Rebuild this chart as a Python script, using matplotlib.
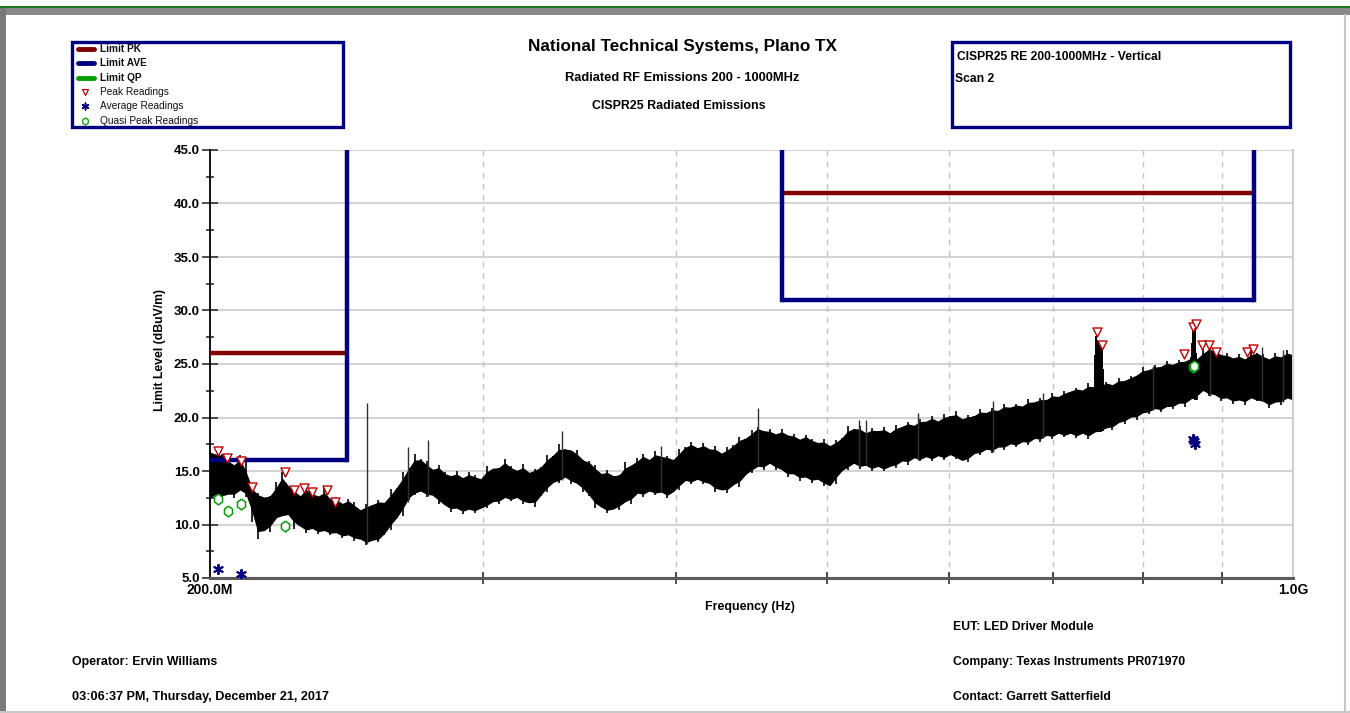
import numpy as np
import matplotlib
matplotlib.use("Agg")
import matplotlib.pyplot as plt
from matplotlib.patches import Rectangle

plt.rcParams['font.family'] = ['Liberation Sans', 'DejaVu Sans']

# measured trace: max / min of the black band read at each sweep point (dBuV/m)
trace_top = [16.9, 16.5, 16.6, 16.2, 15.5, 16.5, 15.9, 13.6, 12.9, 12.5,
             12.7, 14.0, 14.9, 13.6, 13.5, 12.6, 13.8, 13.0, 12.6, 13.5,
             12.3, 12.6, 11.9, 12.4, 12.1, 11.3, 11.9, 11.8, 12.3, 12.0,
             13.3, 13.4, 14.9, 15.3, 16.6, 16.1, 15.9, 15.1, 15.6, 14.9,
             14.5, 15.0, 14.3, 14.9, 14.6, 14.2, 15.5, 15.2, 15.3, 16.1,
             15.5, 15.0, 15.7, 14.8, 15.2, 15.4, 16.5, 16.4, 17.5, 17.1,
             16.9, 17.0, 16.0, 15.9, 15.6, 14.7, 15.1, 14.5, 14.6, 15.8,
             15.5, 16.2, 16.6, 16.0, 16.9, 16.3, 16.4, 16.0, 17.1, 17.2,
             17.7, 17.1, 17.6, 17.0, 17.3, 16.6, 17.2, 17.4, 18.2, 18.0,
             18.8, 19.1, 18.7, 18.9, 18.4, 18.9, 18.3, 18.5, 17.9, 18.4,
             18.0, 17.6, 18.0, 17.3, 17.9, 18.1, 19.2, 18.9, 19.2, 18.5,
             19.0, 18.7, 19.1, 18.5, 19.3, 19.1, 19.6, 19.2, 19.9, 19.6,
             20.1, 19.6, 20.3, 20.1, 20.6, 19.8, 20.2, 20.1, 20.8, 20.4,
             20.9, 20.6, 21.3, 20.9, 21.3, 21.0, 21.7, 21.4, 21.8, 21.6,
             22.3, 21.9, 22.5, 22.4, 22.8, 22.5, 23.2, 22.8, 23.0, 23.3,
             23.0, 23.7, 23.4, 23.9, 23.9, 24.7, 24.4, 24.9, 24.7, 25.3,
             24.9, 25.4, 25.2, 25.7, 25.4, 26.4, 26.3, 26.5, 25.8, 26.0,
             25.5, 25.9, 25.4, 26.2, 26.0, 25.9, 25.4, 26.0, 25.6, 26.3,
             25.8]
trace_bot = [12.2, 12.9, 12.6, 12.9, 12.5, 13.3, 12.6, 10.2, 8.6, 9.5,
             9.3, 10.6, 10.8, 11.0, 9.6, 9.9, 9.2, 9.7, 9.1, 9.5,
             9.0, 9.3, 8.7, 9.1, 8.5, 8.7, 8.1, 8.6, 8.4, 9.0,
             9.5, 10.6, 10.8, 12.3, 12.8, 13.2, 12.6, 12.8, 11.9, 11.9,
             11.2, 11.6, 11.0, 11.5, 11.1, 11.6, 11.5, 12.2, 11.9, 12.6,
             12.2, 12.6, 11.9, 12.1, 11.6, 12.7, 13.0, 14.0, 13.9, 14.5,
             13.8, 13.9, 13.0, 12.7, 11.5, 11.7, 11.1, 11.5, 11.4, 12.2,
             11.9, 13.0, 12.6, 13.2, 12.8, 13.1, 12.5, 13.1, 13.2, 14.2,
             13.8, 14.3, 13.8, 13.9, 13.0, 13.3, 12.9, 13.8, 13.5, 14.7,
             14.8, 15.5, 15.1, 15.8, 15.1, 15.2, 14.4, 14.8, 14.1, 14.5,
             13.9, 14.3, 13.6, 13.6, 13.8, 15.1, 15.1, 15.8, 15.2, 15.6,
             15.0, 15.5, 15.0, 15.5, 15.3, 16.0, 15.6, 16.3, 15.9, 16.4,
             15.9, 16.5, 16.0, 16.6, 16.1, 16.0, 15.8, 16.7, 16.5, 17.1,
             16.7, 17.3, 17.0, 17.6, 17.2, 17.8, 17.4, 18.1, 17.7, 18.4,
             18.0, 18.6, 18.2, 18.6, 18.1, 18.6, 18.0, 18.7, 18.6, 19.1,
             18.8, 19.6, 19.4, 20.1, 19.8, 20.5, 20.3, 20.9, 20.5, 21.1,
             20.8, 21.4, 21.0, 21.8, 21.6, 22.6, 22.0, 22.2, 21.5, 21.9,
             21.3, 21.7, 21.2, 21.9, 21.5, 21.6, 20.9, 21.5, 21.2, 21.9,
             21.5]
# the analyzer sweeps 200 MHz - 1 GHz on log spaced points
sweep_freq = np.geomspace(200, 1000, len(trace_top))

# tall single spikes and the two narrow emission columns (MHz, top dBuV/m)
spike_freq = [252.6, 268.4, 276.5, 337.4, 391.0, 451.6, 525.0, 530.0, 572.5, 640.0,
              690.0, 812.0, 884.0, 955.0, 985.0,
              745.5, 746.5, 747.5, 748.5, 749.5, 750.5, 751.5, 752.5, 753.5,
              859.5, 860.5, 861.5, 862.5, 863.5, 864.5, 865.5]
spike_top = [21.4, 17.2, 17.9, 18.7, 17.3, 20.9, 19.8, 19.8, 20.4, 21.5,
             22.3, 24.8, 26.5, 26.6, 26.3,
             25.8, 27.6, 27.2, 26.4, 27.0, 26.2, 26.8, 26.5, 24.5,
             25.5, 27.0, 28.3, 27.5, 28.0, 28.4, 26.0]

# CISPR25 limits: bands in MHz, levels in dBuV/m
band_start = [200.0, 468.0]
band_stop = [245.0, 944.0]
limit_pk = [26.0, 41.0]
limit_ave = [16.0, 31.0]

# final readings
peak_freq = [202.3, 205.2, 209.3, 212.8, 223.6, 226.6, 230.1, 232.9, 237.9, 241.0,
             747.0, 752.6, 850.4, 861.6, 865.4, 873.2, 883.0, 891.8, 933.4, 942.7]
peak_level = [16.9, 16.2, 15.9, 13.5, 14.9, 13.2, 13.4, 13.0, 13.2, 12.1,
              28.0, 26.8, 25.9, 28.5, 28.7, 26.8, 26.8, 26.1, 26.1, 26.4]
ave_freq = [202.3, 209.3, 862.0, 864.5, 863.2]
ave_level = [5.8, 5.4, 18.0, 17.5, 17.8]
qp_freq = [202.3, 205.3, 209.3, 223.6, 862.0, 863.5]
qp_level = [12.35, 11.3, 11.9, 9.9, 24.75, 24.85]

grid_freq = [300, 400, 500, 600, 700, 800, 900]
y_ticks = [5, 10, 15, 20, 25, 30, 35, 40, 45]

PK_COLOR = '#800000'
AVE_COLOR = '#000080'
QP_COLOR = '#00a000'
PEAK_MK = '#c00000'
QP_MARK = [(0, 1), (0.75, 0.45), (0.75, -0.45), (0, -1), (-0.75, -0.45), (-0.75, 0.45), (0, 1)]

fig = plt.figure(figsize=(13.5, 7.13), dpi=100)
ax = fig.add_axes([210 / 1350, 1 - 578 / 713, 1083 / 1350, 428 / 713])
ax.set_xscale('log')
ax.set_xlim(200, 1000)
ax.set_ylim(5, 45)

for y in y_ticks:
    ax.axhline(y, color='#d4d4d4', lw=1.5, zorder=0)
for f in grid_freq:
    ax.axvline(f, color='#c4c4c4', lw=1.0, ls=(0, (4, 4)), zorder=0)

# trace: dense core between neighbouring readings, single sweeps drawn as thin strokes
top = np.array(trace_top)
bot = np.array(trace_bot)
low_top = np.minimum(top, np.minimum(np.r_[top[0], top[:-1]], np.r_[top[1:], top[-1]]))
high_bot = np.maximum(bot, np.maximum(np.r_[bot[0], bot[:-1]], np.r_[bot[1:], bot[-1]]))
core_top = 0.5 * (top + low_top)
core_bot = 0.5 * (bot + high_bot)
ax.fill_between(sweep_freq, core_bot, core_top, color='black', lw=1.0, zorder=2)
ax.vlines(sweep_freq, bot, top, color='black', lw=1.2, zorder=2)
spike_base = np.interp(spike_freq, sweep_freq, bot)
ax.vlines(spike_freq[:15], spike_base[:15], spike_top[:15], color='#303030', lw=1.0, zorder=2)
ax.vlines(spike_freq[15:], spike_base[15:], spike_top[15:], color='black', lw=1.4, zorder=2)

# limits
for f0, f1, pk, av in zip(band_start, band_stop, limit_pk, limit_ave):
    ax.plot([f0, f1], [pk, pk], color=PK_COLOR, lw=3.2, solid_capstyle='butt', zorder=3)
    ax.plot([f0, f1], [av, av], color=AVE_COLOR, lw=3.2, solid_capstyle='butt', zorder=3)
    ax.plot([f1, f1], [av, 50], color=AVE_COLOR, lw=3.2, zorder=3)
    if f0 > 200:
        ax.plot([f0, f0], [av, 50], color=AVE_COLOR, lw=3.2, zorder=3)

# readings
ax.scatter(peak_freq, peak_level, marker='v', s=42, facecolor='white', edgecolor=PEAK_MK, lw=1.0, zorder=5)
ax.scatter(qp_freq, qp_level, marker=QP_MARK, s=60, facecolor='white', edgecolor=QP_COLOR, lw=1.1, zorder=5)
ax.scatter(ave_freq, ave_level, marker=(6, 2, 0), s=45, color=AVE_COLOR, lw=1.4, zorder=5)

ax.set_xticks(grid_freq)
ax.set_xticklabels([])
ax.xaxis.set_minor_locator(matplotlib.ticker.NullLocator())
ax.set_yticks(y_ticks)
ax.set_yticklabels(['%.1f' % v for v in y_ticks], fontsize=9.5, fontweight='bold')
ax.set_yticks(np.arange(7.5, 45, 5), minor=True)
ax.tick_params(axis='y', which='major', direction='inout', length=11, width=1.2, color='#303030', pad=2)
ax.tick_params(axis='y', which='minor', direction='inout', length=6, width=1.2, color='#303030')
ax.tick_params(axis='x', which='major', direction='inout', length=8, width=1.2, color='#303030')

ax.spines['left'].set_color('black')
ax.spines['left'].set_linewidth(1.3)
ax.spines['bottom'].set_color('#5a5a5a')
ax.spines['bottom'].set_linewidth(2.2)
ax.spines['right'].set_color('#cfcfcf')
ax.spines['right'].set_linewidth(1.5)
ax.spines['top'].set_visible(False)

# page overlay in pixel coordinates
ov = fig.add_axes([0, 0, 1, 1], zorder=-1)
ov.set_xlim(0, 1350)
ov.set_ylim(713, 0)
ov.axis('off')
ov2 = fig.add_axes([0, 0, 1, 1], zorder=10)
ov2.set_xlim(0, 1350)
ov2.set_ylim(713, 0)
ov2.axis('off')
ov2.patch.set_alpha(0)

# window frame
ov.add_patch(Rectangle((0, 7), 1350, 8, color='#8a8a8a', lw=0))
ov.plot([0, 1350], [7, 7], color='#1f7a1f', lw=1.5)
ov.add_patch(Rectangle((0, 7), 6, 706, color='#7a7a7a', lw=0))
ov.plot([1345, 1345], [15, 713], color='#c8c8c8', lw=1.5)
ov.plot([0, 1350], [711.5, 711.5], color='#c8c8c8', lw=1.5)

ov2.add_patch(Rectangle((72, 42), 271, 85, fill=False, edgecolor=AVE_COLOR, lw=2.4))
ov2.add_patch(Rectangle((952, 42), 338, 85, fill=False, edgecolor=AVE_COLOR, lw=2.4))

legend_rows = [49, 63, 78, 92, 106, 121]
legend_names = ['Limit PK', 'Limit AVE', 'Limit QP', 'Peak Readings', 'Average Readings', 'Quasi Peak Readings']
for yy, col in zip(legend_rows[:3], [PK_COLOR, AVE_COLOR, QP_COLOR]):
    ov2.plot([78, 94], [yy, yy], color=col, lw=3.5, solid_capstyle='round')
ov2.scatter([85], [legend_rows[3]], marker='v', s=18, facecolor='white', edgecolor=PEAK_MK, lw=0.9)
ov2.scatter([85], [legend_rows[4]], marker=(6, 2, 0), s=24, color=AVE_COLOR, lw=1.1)
ov2.scatter([85], [legend_rows[5]], marker=QP_MARK, s=28, facecolor='white', edgecolor=QP_COLOR, lw=0.9)
for i, (yy, name) in enumerate(zip(legend_rows, legend_names)):
    ov2.text(100, yy, name, fontsize=7.3, fontweight='bold' if i < 3 else 'normal',
             va='center', ha='left', color='#101010')

ov2.text(682, 47, 'National Technical Systems, Plano TX', fontsize=12.3, fontweight='bold', ha='center', va='center')
ov2.text(682, 78, 'Radiated RF Emissions 200 - 1000MHz', fontsize=9.3, fontweight='bold', ha='center', va='center')
ov2.text(679, 106, 'CISPR25 Radiated Emissions', fontsize=8.9, fontweight='bold', ha='center', va='center')
ov2.text(957, 57, 'CISPR25 RE 200-1000MHz - Vertical', fontsize=8.7, fontweight='bold', ha='left', va='center')
ov2.text(955, 79, 'Scan 2', fontsize=8.7, fontweight='bold', ha='left', va='center')

ov2.text(160, 350, 'Limit Level (dBuV/m)', fontsize=8.8, fontweight='bold', rotation=90, ha='center', va='center')
ov2.text(750, 607, 'Frequency (Hz)', fontsize=8.9, fontweight='bold', ha='center', va='center')
ov2.text(210, 590, '200.0M', fontsize=10, fontweight='bold', ha='center', va='center')
ov2.text(1293, 590, '1.0G', fontsize=10, fontweight='bold', ha='center', va='center')

ov2.text(953, 627, 'EUT: LED Driver Module', fontsize=8.8, fontweight='bold', ha='left', va='center')
ov2.text(953, 662, 'Company: Texas Instruments PR071970', fontsize=8.8, fontweight='bold', ha='left', va='center')
ov2.text(953, 697, 'Contact: Garrett Satterfield', fontsize=8.8, fontweight='bold', ha='left', va='center')
ov2.text(72, 662, 'Operator: Ervin Williams', fontsize=8.9, fontweight='bold', ha='left', va='center')
ov2.text(72, 697, '03:06:37 PM, Thursday, December 21, 2017', fontsize=9.1, fontweight='bold', ha='left', va='center')

fig.savefig('out.png', dpi=100)
